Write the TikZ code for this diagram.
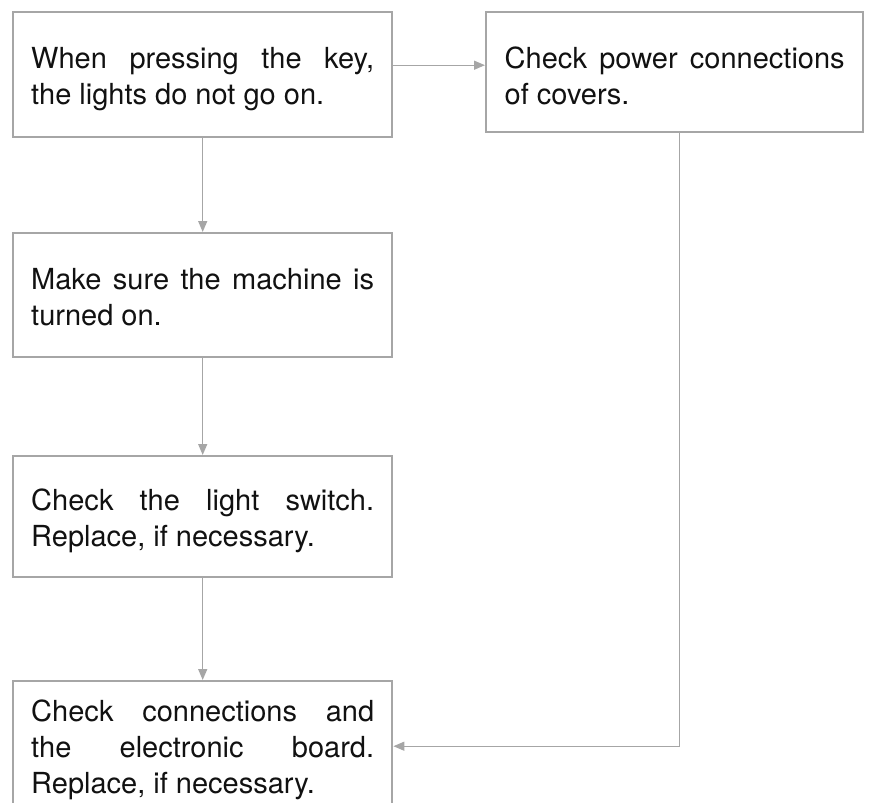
\documentclass[tikz,border=0pt]{standalone}
\usepackage{fontspec}
\setmainfont{TeX Gyre Heros}
\usetikzlibrary{arrows.meta,positioning,calc}
\definecolor{edge}{HTML}{A6A6A6}
\definecolor{ink}{HTML}{111111}
\tikzset{
  stepbox/.style={draw=edge, line width=2.4pt, fill=white, align=justify, text width=343pt, inner xsep=18pt, inner ysep=0pt, text height=56pt, font=\fontsize{29}{36}\selectfont, text=ink},
  arrow/.style={-{Triangle[length=11pt,width=9pt]}, line width=1.4pt, draw=edge}
}
\begin{document}
\begin{tikzpicture}[x=1pt,y=1pt]
\useasboundingbox (0,0) rectangle (871,-803);
\node[stepbox, anchor=north west, text depth=69pt] (press) at (12,-11) {When pressing the key,\linebreak the lights do not go on.};
\node[stepbox, below=93.6pt of press, text depth=68pt] (machine) {Make sure the machine is\linebreak turned on.};
\node[stepbox, below=96.6pt of machine, text height=54pt, text depth=67pt] (switch) {Check the light switch.\linebreak Replace, if necessary.};
\node[stepbox, below=101.6pt of switch, text height=40pt, text depth=90pt] (board) {Check connections and\linebreak the electronic board.\linebreak Replace, if necessary.};
\node[stepbox, anchor=north west, text width=340pt, inner xsep=18.5pt, text depth=64pt] (covers) at (485,-11) {Check power connections\linebreak of covers.};
% connectors
\draw[arrow] ([yshift=9.5pt]press.east) -- ([yshift=9.5pt]press.east -| covers.west);
\draw[arrow] (press) -- (machine);
\draw[arrow] (machine) -- (switch);
\draw[arrow] (switch) -- (board);
\draw[arrow] ([xshift=4.5pt]covers.south) |- (board.east);
\end{tikzpicture}
\end{document}
